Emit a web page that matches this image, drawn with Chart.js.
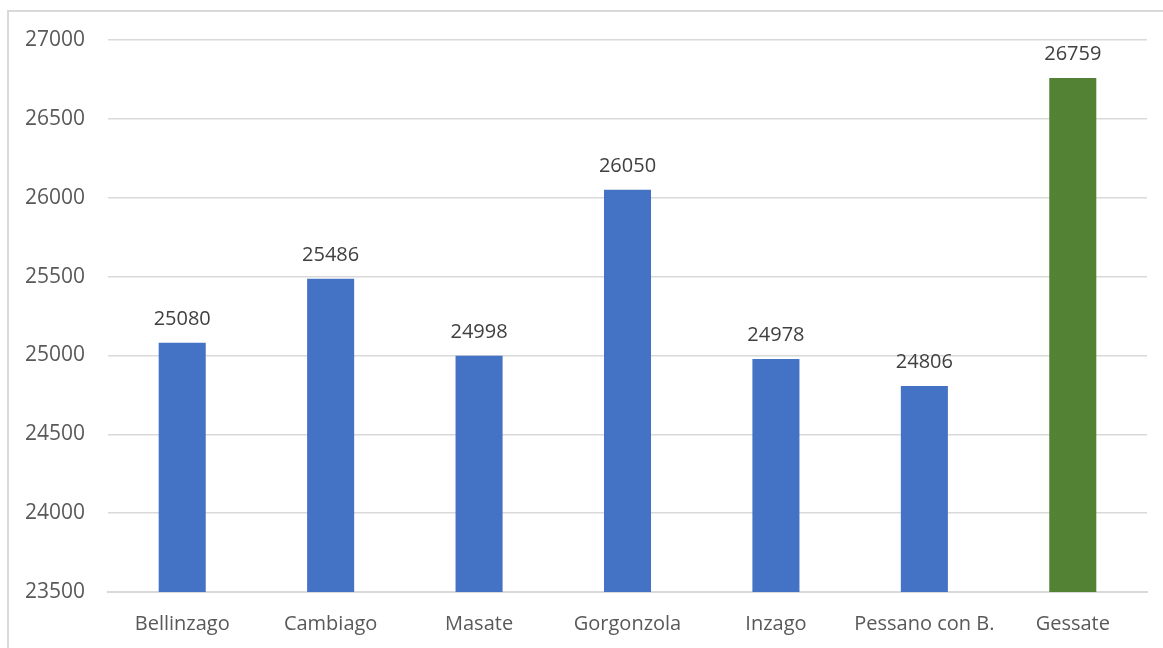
<!DOCTYPE html>
<html>
<head>
<meta charset="utf-8">
<script src="https://cdn.jsdelivr.net/npm/chart.js@4"></script>
<style>
  html, body { margin: 0; padding: 0; background: #ffffff; }
  #wrap { position: relative; width: 1163px; height: 648px; }
</style>
</head>
<body>
<div id="wrap"><canvas id="c" width="1163" height="648"></canvas></div>
<script>
const comuni = ['Bellinzago', 'Cambiago', 'Masate', 'Gorgonzola', 'Inzago', 'Pessano con B.', 'Gessate'];
const valori = [25080, 25486, 24998, 26050, 24978, 24806, 26759];
const colori = ['#4472C4', '#4472C4', '#4472C4', '#4472C4', '#4472C4', '#4472C4', '#548235'];
const yMin = 23500, yMax = 27000, yStep = 500;

const FONT = '"Open Sans", "DejaVu Sans", sans-serif';

// light frame around the chart
const framePlugin = {
  id: 'frame',
  beforeDraw(chart) {
    const ctx = chart.ctx;
    ctx.save();
    ctx.strokeStyle = '#d9d9d9';
    ctx.lineWidth = 2;
    ctx.beginPath();
    ctx.moveTo(8, 700);
    ctx.lineTo(8, 11);
    ctx.lineTo(1200, 11);
    ctx.stroke();
    ctx.restore();
  }
};

// value labels above each bar
const valueLabels = {
  id: 'valueLabels',
  afterDatasetsDraw(chart) {
    const ctx = chart.ctx;
    const meta = chart.getDatasetMeta(0);
    ctx.save();
    ctx.font = '20px ' + FONT;
    ctx.fillStyle = '#404040';
    ctx.textAlign = 'center';
    ctx.textBaseline = 'alphabetic';
    meta.data.forEach((bar, i) => {
      ctx.fillText(String(valori[i]), bar.x, bar.y - 18);
    });
    ctx.restore();
  }
};

new Chart(document.getElementById('c'), {
  type: 'bar',
  data: {
    labels: comuni,
    datasets: [{
      data: valori,
      backgroundColor: colori,
      borderWidth: 0,
      categoryPercentage: 1,
      barPercentage: 0.317
    }]
  },
  options: {
    responsive: false,
    animation: false,
    layout: { padding: { top: 40, right: 16, bottom: 0, left: 0 } },
    plugins: { legend: { display: false }, tooltip: { enabled: false } },
    scales: {
      x: {
        grid: { display: false, drawTicks: false },
        border: { display: true, color: '#d9d9d9', width: 2 },
        ticks: { color: '#595959', font: { family: FONT, size: 20 }, padding: 20, maxRotation: 0, autoSkip: false },
        afterFit(s) { s.height = 56; }
      },
      y: {
        min: yMin,
        max: yMax,
        grid: { color: '#d9d9d9', lineWidth: 1.5, drawTicks: false },
        border: { display: false },
        ticks: {
          stepSize: yStep,
          color: '#595959',
          font: { family: FONT, size: 21 },
          padding: 23,
          callback: (v) => String(v)
        },
        afterFit(s) { s.width = 108; }
      }
    }
  },
  plugins: [framePlugin, valueLabels]
});
</script>
</body>
</html>
